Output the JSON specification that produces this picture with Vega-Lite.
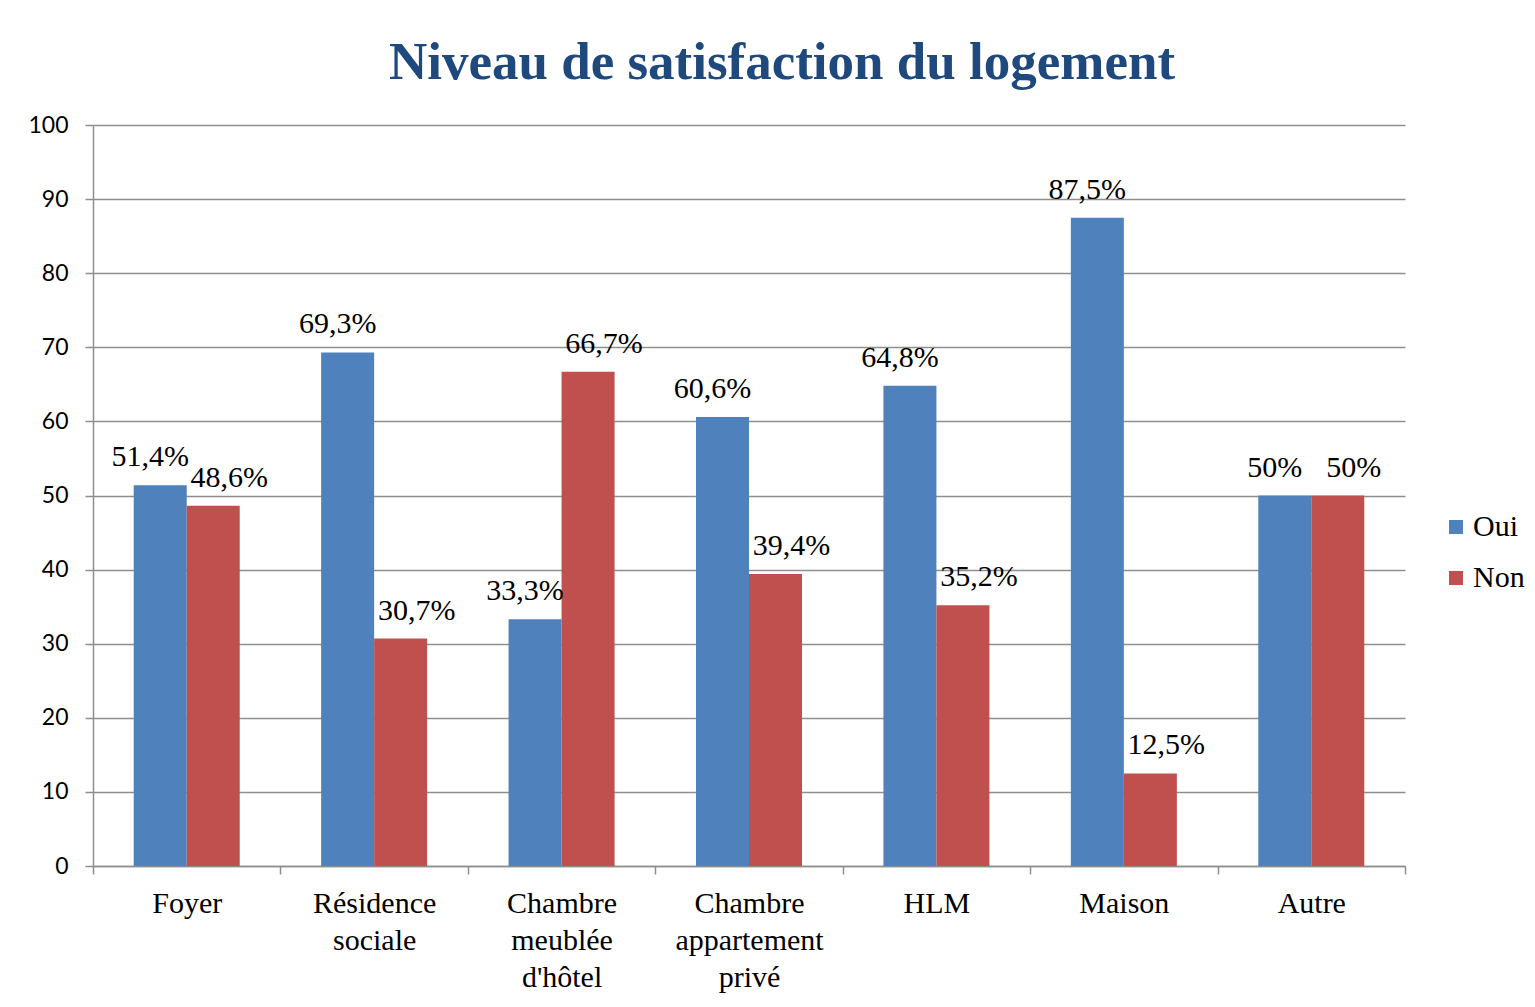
{
  "$schema": "https://vega.github.io/schema/vega-lite/v6.json",
  "width": 1312,
  "height": 741,
  "autosize": {"type": "none"},
  "padding": {"left": 93, "top": 125, "right": 130, "bottom": 141},
  "background": "white",
  "title": {
    "text": "Niveau de satisfaction du logement",
    "font": "Liberation Serif",
    "fontWeight": "bold",
    "fontSize": 53,
    "color": "#1F497D",
    "anchor": "middle",
    "dx": 33,
    "offset": 24
  },
  "data": {
    "values": [
      {"logement": "Foyer", "reponse": "Oui", "pct": 51.4},
      {"logement": "Foyer", "reponse": "Non", "pct": 48.6},
      {"logement": "Résidence sociale", "reponse": "Oui", "pct": 69.3},
      {"logement": "Résidence sociale", "reponse": "Non", "pct": 30.7},
      {"logement": "Chambre meublée d'hôtel", "reponse": "Oui", "pct": 33.3},
      {"logement": "Chambre meublée d'hôtel", "reponse": "Non", "pct": 66.7},
      {"logement": "Chambre appartement privé", "reponse": "Oui", "pct": 60.6},
      {"logement": "Chambre appartement privé", "reponse": "Non", "pct": 39.4},
      {"logement": "HLM", "reponse": "Oui", "pct": 64.8},
      {"logement": "HLM", "reponse": "Non", "pct": 35.2},
      {"logement": "Maison", "reponse": "Oui", "pct": 87.5},
      {"logement": "Maison", "reponse": "Non", "pct": 12.5},
      {"logement": "Autre", "reponse": "Oui", "pct": 50},
      {"logement": "Autre", "reponse": "Non", "pct": 50}
    ]
  },
  "transform": [
    {"calculate": "replace(format(datum.pct, '.1~f'), '.', ',') + '%'", "as": "etiquette"}
  ],
  "encoding": {
    "x": {
      "field": "logement",
      "type": "nominal",
      "sort": null,
      "scale": {"paddingInner": 0, "paddingOuter": 0},
      "axis": {
        "title": null,
        "labelAngle": 0,
        "labelLimit": 0,
        "labelExpr": "split(datum.label, ' ')",
        "labelFont": "Liberation Serif",
        "labelFontSize": 30,
        "labelColor": "#000000",
        "labelLineHeight": 37,
        "labelPadding": 14,
        "tickBand": "extent",
        "tickSize": 8,
        "tickColor": "#8E8E8E",
        "tickWidth": 1.5,
        "domainColor": "#8E8E8E",
        "domainWidth": 1.5,
        "grid": false
      }
    },
    "xOffset": {
      "field": "reponse",
      "type": "nominal",
      "sort": ["Oui", "Non"],
      "scale": {"paddingInner": 0, "paddingOuter": 0.768}
    }
  },
  "layer": [
    {
      "mark": {"type": "bar", "stroke": null},
      "encoding": {
        "y": {
          "field": "pct",
          "type": "quantitative",
          "scale": {"domain": [0, 100], "nice": false},
          "axis": {
            "title": null,
            "values": [0, 10, 20, 30, 40, 50, 60, 70, 80, 90, 100],
            "labelFont": "Lato",
            "labelFontSize": 23,
            "labelColor": "#000000",
            "labelPadding": 17,
            "tickSize": 8,
            "tickColor": "#8E8E8E",
            "tickWidth": 1.5,
            "domainColor": "#8E8E8E",
            "domainWidth": 1.5,
            "grid": true,
            "gridColor": "#8E8E8E",
            "gridWidth": 1.5
          }
        },
        "color": {
          "field": "reponse",
          "type": "nominal",
          "sort": ["Oui", "Non"],
          "scale": {"domain": ["Oui", "Non"], "range": ["#4F81BD", "#C0504D"]},
          "legend": {
            "title": null,
            "orient": "none",
            "legendX": 1348,
            "legendY": 387,
            "symbolType": "square",
            "symbolSize": 196,
            "symbolStrokeWidth": 0,
            "labelFont": "Liberation Serif",
            "labelFontSize": 30,
            "labelColor": "#000000",
            "labelOffset": 2,
            "rowPadding": 21
          }
        }
      }
    },
    {
      "transform": [{"filter": "datum.reponse === 'Oui'"}],
      "mark": {
        "type": "text",
        "font": "Liberation Serif",
        "fontSize": 30,
        "color": "#000000",
        "baseline": "middle",
        "dy": -28,
        "dx": -10
      },
      "encoding": {
        "y": {"field": "pct", "type": "quantitative"},
        "text": {"field": "etiquette"}
      }
    },
    {
      "transform": [{"filter": "datum.reponse === 'Non'"}],
      "mark": {
        "type": "text",
        "font": "Liberation Serif",
        "fontSize": 30,
        "color": "#000000",
        "baseline": "middle",
        "dy": -28,
        "dx": 16
      },
      "encoding": {
        "y": {"field": "pct", "type": "quantitative"},
        "text": {"field": "etiquette"}
      }
    }
  ],
  "config": {
    "view": {"stroke": null}
  }
}
